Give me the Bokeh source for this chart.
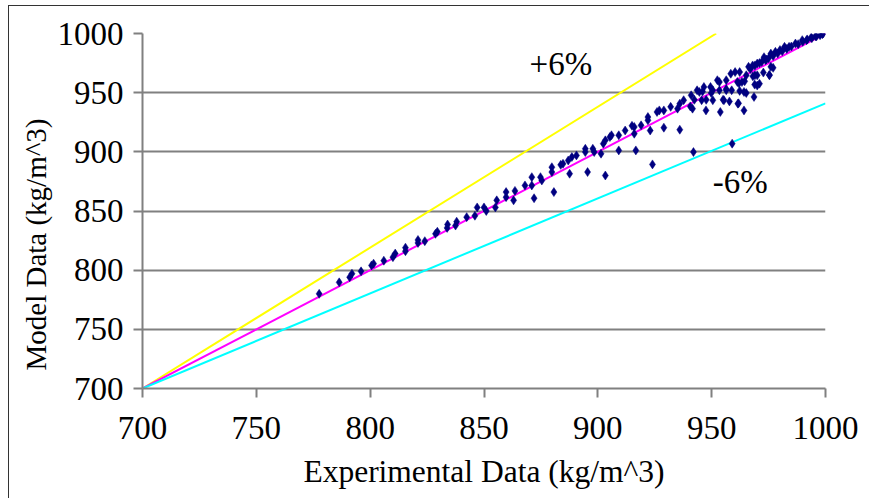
from bokeh.plotting import figure
from bokeh.models import Label, FixedTicker, ColumnDataSource, Title
from bokeh.embed import file_html
from bokeh.resources import INLINE

# ---- data ----
exp_x = [777.6, 786.4, 791, 792, 796, 800.6, 801.5, 806, 810, 811, 815.5, 815.5, 821, 821, 824,
         828.7, 829.5, 833.8, 834, 837.5, 838, 842.4, 846, 847, 850, 851, 855, 855.6, 859.7, 859.7,
         863, 863.6, 868, 871, 871, 872, 874.8, 875.4, 879.8, 879.8, 880.7, 883.7, 884.7, 887.6, 887,
         888.6, 890.6, 894.5, 894.5, 895.5, 897.8, 898.4, 901.4, 902.4, 903.3, 903.3, 905.3, 906, 909.2,
         909.2, 912, 915, 916, 916, 916.7, 919, 922, 922, 923, 924, 926, 927, 929, 929, 932, 935, 936,
         936, 937.7, 941, 941.6, 942, 943.6, 944.6, 945.6, 946.6, 947.5, 949.5, 950.5, 950.5, 952.5,
         953.4, 953.4, 953.8, 956.4, 956.4, 955.4, 958.4, 958.8, 959, 960.3, 961.3, 962.3, 963.3, 962.3,
         964.2, 964.2, 965.2, 966.2, 968, 968.6, 969, 970, 970, 971, 970, 973, 973.7, 976, 976, 975.4,
         978, 980, 982, 984, 986.8, 989.8, 991.7, 993.7, 995.6, 997.6, 998.6,
         940.6, 942.4, 947.6, 955, 957.8, 961.8, 956.4, 949.8, 946, 962, 964.5, 968.1, 968.9, 965.2,
         961.5, 967, 969, 971, 972, 974, 975, 977, 979, 981, 983, 985, 988, 990, 992, 994, 996, 999,
         972.7, 975.3, 977]
model_y = [780, 789.7, 794, 797, 799, 804, 805.5, 808, 811, 814, 816, 819, 823, 825.5, 824.5,
           830.7, 832.5, 835.7, 838.6, 837.7, 841, 844.8, 846, 853, 853, 850, 853, 859, 861.7, 866,
           859, 867, 871.6, 878.6, 871.6, 860.8, 878.6, 875.8, 887, 882.9, 866, 889, 889.9, 881.5, 892.7,
           895.6, 897, 902.6, 899.8, 882.9, 902.6, 899.8, 898.4, 906.9, 909.7, 880, 912.5, 914, 914,
           901.2, 918, 922, 921, 915.3, 901.2, 922.4, 929.4, 926.6, 918, 889.4, 933.7, 935, 935, 920.4,
           938, 936.5, 940.7, 918.7, 943.6, 947.8, 936.5, 899.8, 952, 950.6, 943.6, 954.8, 935, 954.8,
           952, 943.6, 960.5, 959, 952, 933.7, 960.5, 952, 943.6, 966, 952, 906.9, 967.4, 959, 967.4, 959,
           951.5, 950.6, 935, 964.7, 971.8, 973, 946.4, 964.7, 964.7, 974.6, 957.6, 956, 980, 977.4,
           971.8, 983, 964.7, 984.5, 986, 988.7, 988.7, 991.5, 994.4, 994.4, 996.6, 997.7, 998.6, 999.4,
           938.4, 944, 944, 944, 942.6, 941, 953, 949.7, 951, 958, 959.6, 963.8, 956.8, 949.7,
           940.7, 970, 973, 975, 976, 978, 979, 981, 983, 985, 987, 989, 991, 993, 995, 996, 997.5, 1000,
           967, 965, 971]

ref_x = [700, 1000]          # y = x line
plus_x = [700, 952]          # +6% bound
plus_y = [700, 1000]
minus_x = [700, 1000]        # -6% bound
minus_y = [700, 941]

ticks = [700, 750, 800, 850, 900, 950, 1000]
x_title = "Experimental Data (kg/m^3)"
y_title = "Model Data (kg/m^3)"
plus_label = "+6%"
minus_label = "-6%"

FONT = "Liberation Serif"

p = figure(width=861, height=493, x_range=(700, 1000), y_range=(700, 1000),
           output_backend="svg", toolbar_location=None,
           min_border_left=133, min_border_right=45, min_border_top=27, min_border_bottom=111)
p.margin = (5, 0, 0, 8)
p.styles = {"border-left": "1px solid #333333", "border-top": "1px solid #333333"}
p.outline_line_color = None
p.background_fill_color = "white"
p.border_fill_color = "white"

p.xgrid.visible = False
p.ygrid.grid_line_color = "#808080"
p.ygrid.grid_line_width = 2

for ax in (p.xaxis[0], p.yaxis[0]):
    ax.ticker = FixedTicker(ticks=ticks)
    ax.axis_line_color = "#808080"
    ax.axis_line_width = 2
    ax.major_tick_line_color = "#808080"
    ax.major_tick_line_width = 2
    ax.major_tick_out = 9
    ax.major_tick_in = 0
    ax.minor_tick_line_color = None
    ax.major_label_text_font = FONT
    ax.major_label_text_font_size = "33px"
    ax.major_label_text_color = "black"
    ax.axis_label_text_font = FONT
    ax.axis_label_text_font_style = "normal"
    ax.axis_label_text_color = "black"

p.xaxis.axis_label = x_title
p.xaxis.axis_label_text_font_size = "31.5px"
p.xaxis.major_label_standoff = 19
p.xaxis.axis_label_standoff = 12
p.yaxis.major_label_standoff = 10

p.add_layout(Title(text=y_title, align="left", offset=18, text_font=FONT,
                   text_font_size="29px", text_font_style="normal", text_color="black",
                   standoff=5), "left")

p.line(plus_x, plus_y, line_color="#FFFF00", line_width=2)
p.line(ref_x, ref_x, line_color="#FF00FF", line_width=2)
p.line(minus_x, minus_y, line_color="#00FFFF", line_width=2)

src = ColumnDataSource(dict(x=exp_x, y=model_y))
p.scatter("x", "y", source=src, marker="diamond", size=9, fill_color="#000080",
          line_color="#000080", line_width=0.5)

p.add_layout(Label(x=870, y=959, text=plus_label, text_font=FONT, text_font_size="33px",
                   text_color="black"))
p.add_layout(Label(x=950.5, y=859, text=minus_label, text_font=FONT, text_font_size="33px",
                   text_color="black"))

open("out.html", "w").write(file_html(p, INLINE))
